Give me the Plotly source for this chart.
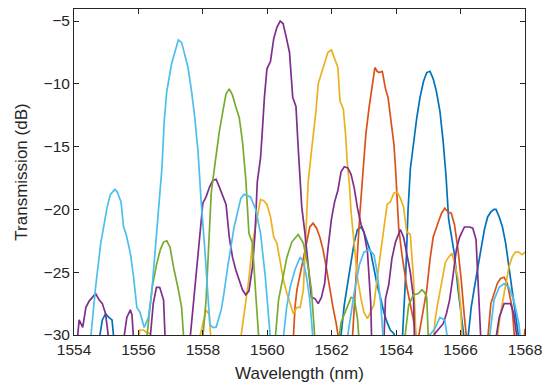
import plotly.graph_objects as go

# Transmission spectra of six channels (wavelength in nm, transmission in dB).
# Values below the -30 dB floor fall outside the axis range and are clipped.
wl_ch1 = [1554.0, 1554.7, 1554.78, 1554.88, 1554.98, 1555.08, 1555.18, 1555.24, 1555.4,
          1562.2, 1562.29, 1562.39, 1562.5, 1562.6, 1562.7, 1562.8, 1562.91, 1563.0, 1563.11,
          1563.21, 1563.31, 1563.41, 1563.52, 1563.62, 1563.72, 1563.82, 1563.93, 1564.0, 1564.1,
          1564.2, 1564.3, 1564.37, 1564.44, 1564.54, 1564.64, 1564.74, 1564.85, 1564.95, 1565.05,
          1565.15, 1565.25, 1565.36, 1565.46, 1565.55, 1565.59, 1565.63, 1565.71, 1565.81, 1565.92,
          1566.02, 1566.12, 1566.17, 1566.24, 1566.33, 1566.43, 1566.53, 1566.64, 1566.74, 1566.84,
          1566.94, 1567.04, 1567.1, 1567.2, 1567.3, 1567.4, 1567.5, 1567.6, 1567.7, 1567.81,
          1567.9, 1568.0]
db_ch1 = [-33, -32, -30.4, -28.8, -28.3, -28.6, -28.8, -30.4, -33,
          -32, -30.0, -27.6, -25.8, -24.2, -22.6, -21.6, -21.4, -21.8, -22.6,
          -23.4, -24.7, -26.0, -27.1, -28.2, -29.0, -29.6, -29.9, -30.5, -31,
          -30.0, -25.0, -20.0, -16.8, -14.6, -12.7, -11.1, -9.8, -9.1, -9.0,
          -9.6, -10.6, -12.2, -14.6, -17.4, -18.8, -20.8, -22.0, -23.6, -26.3,
          -28.4, -30.2, -31.5, -30.0, -27.8, -26.2, -24.6, -23.0, -21.6, -20.6,
          -20.2, -20.0, -20.0, -20.6, -21.4, -22.7, -24.6, -26.7, -28.6, -30.4,
          -32, -33]

wl_ch2 = [1554.0, 1560.7, 1560.81, 1560.86, 1560.92, 1561.02, 1561.12, 1561.22, 1561.32,
          1561.42, 1561.53, 1561.63, 1561.73, 1561.83, 1561.93, 1562.04, 1562.14, 1562.22,
          1562.4, 1562.64, 1562.75, 1562.87, 1563.0, 1563.06, 1563.16, 1563.26, 1563.34, 1563.41,
          1563.47, 1563.57, 1563.67, 1563.75, 1563.82, 1563.93, 1563.98, 1564.03, 1564.08,
          1564.18, 1564.34, 1564.49, 1564.59, 1564.64, 1564.69, 1564.8, 1564.95, 1565.05,
          1565.15, 1565.31, 1565.41, 1565.51, 1565.61, 1565.71, 1565.81, 1565.92, 1566.02,
          1566.12, 1566.2, 1566.5, 1566.84, 1566.94, 1567.04, 1567.14, 1567.24, 1567.35,
          1567.45, 1567.52, 1567.6, 1567.68, 1567.8, 1567.95, 1568.0]
db_ch2 = [-33, -32, -30.2, -27.8, -26.4, -25.1, -24.0, -22.4, -21.4,
          -21.1, -21.5, -22.2, -23.2, -24.6, -26.2, -27.8, -29.1, -30.4,
          -32, -30.4, -25.6, -20.5, -16.0, -14.0, -11.9, -10.3, -8.7, -9.0,
          -9.1, -9.0, -10.4, -11.1, -12.4, -14.8, -16.7, -18.8, -21.5,
          -23.6, -26.3, -28.2, -29.5, -31, -30.2, -28.5, -26.4, -24.0,
          -22.2, -21.0, -20.3, -19.9, -20.2, -20.3, -21.2, -23.2, -25.6,
          -28.6, -30.6, -32, -30.4, -27.5, -26.7, -25.9, -25.5, -25.4,
          -25.9, -26.7, -27.8, -30.4, -32, -31, -29.5]

wl_ch3 = [1554.0, 1555.9, 1556.0, 1556.05, 1556.16, 1556.26, 1556.36, 1556.42, 1557.0,
          1557.85, 1557.9, 1558.0, 1558.1, 1558.2, 1558.25, 1558.7, 1559.15, 1559.18, 1559.3,
          1559.43, 1559.54, 1559.69, 1559.79, 1559.89, 1559.99, 1560.1, 1560.2, 1560.3, 1560.4,
          1560.5, 1560.61, 1560.71, 1560.81, 1560.92, 1561.02, 1561.12, 1561.17, 1561.22,
          1561.27, 1561.37, 1561.51, 1561.58, 1561.68, 1561.78, 1561.88, 1561.99, 1562.09,
          1562.19, 1562.26, 1562.36, 1562.43, 1562.48, 1562.55, 1562.6, 1562.7, 1562.8, 1562.91,
          1563.0, 1563.11, 1563.21, 1563.31, 1563.41, 1563.52, 1563.62, 1563.72, 1563.82,
          1563.93, 1564.03, 1564.13, 1564.23, 1564.33, 1564.44, 1564.54, 1564.62, 1564.9,
          1565.15, 1565.2, 1565.27, 1565.36, 1565.46, 1565.53, 1565.63, 1565.73, 1565.81,
          1565.92, 1566.0, 1566.05, 1566.6, 1567.1, 1567.14, 1567.24, 1567.35, 1567.5, 1567.6,
          1567.7, 1567.8, 1567.91, 1568.0]
db_ch3 = [-33, -32, -30.2, -29.6, -29.6, -29.8, -29.9, -30.4, -32,
          -31, -30.2, -29.1, -28.0, -28.4, -30.4, -32, -31, -30.2, -27.8,
          -25.5, -22.7, -20.4, -19.2, -19.3, -19.6, -20.6, -22.2, -22.7, -24.3,
          -25.6, -26.7, -27.5, -28.3, -27.8, -27.8, -26.4, -23.2, -20.6,
          -17.8, -15.4, -12.2, -10.0, -9.2, -8.4, -7.5, -7.3, -8.0,
          -8.7, -11.4, -12.0, -14.0, -16.2, -18.0, -20.2, -22.8, -25.5, -27.1,
          -28.2, -28.7, -28.2, -27.6, -25.5, -23.4, -21.5, -19.6, -19.4,
          -18.7, -18.6, -19.1, -19.8, -21.8, -22.0, -25.5, -30.4, -32,
          -31, -29.0, -27.8, -26.6, -25.2, -24.2, -23.8, -23.5, -24.2,
          -25.5, -27.6, -30.4, -32, -31, -30.2, -28.3, -26.7, -24.6, -23.8,
          -23.4, -23.4, -23.6, -23.4]

wl_ch4 = [1554.05, 1554.11, 1554.16, 1554.27, 1554.37, 1554.47, 1554.57, 1554.67, 1554.78,
          1554.88, 1554.98, 1555.08, 1555.3, 1555.54, 1555.64, 1555.75, 1555.8, 1555.85, 1556.1,
          1556.36, 1556.46, 1556.56, 1556.66, 1556.78, 1556.83, 1557.2, 1557.6, 1557.7, 1557.8,
          1557.9, 1558.0, 1558.1, 1558.21, 1558.31, 1558.41, 1558.51, 1558.62, 1558.72, 1558.82,
          1558.92, 1559.02, 1559.13, 1559.23, 1559.33, 1559.43, 1559.54, 1559.62, 1559.69,
          1559.79, 1559.84, 1559.91, 1559.99, 1560.1, 1560.2, 1560.3, 1560.4, 1560.49, 1560.59,
          1560.69, 1560.79, 1560.89, 1560.96, 1561.02, 1561.07, 1561.17, 1561.27, 1561.37,
          1561.48, 1561.58, 1561.68, 1561.78, 1561.88, 1561.99, 1562.09, 1562.19, 1562.29,
          1562.39, 1562.5, 1562.6, 1562.7, 1562.8, 1562.91, 1563.0, 1563.11, 1563.21, 1563.24,
          1563.45, 1563.62, 1563.67, 1563.77, 1563.87, 1563.98, 1564.13, 1564.23, 1564.33,
          1564.44, 1564.54, 1564.57, 1564.9, 1565.2, 1565.36, 1565.46, 1565.56, 1565.66,
          1565.76, 1565.87, 1565.97, 1566.12, 1566.28, 1566.38, 1566.48, 1566.53, 1566.58,
          1566.63, 1566.85, 1567.09, 1567.2, 1567.35, 1567.55, 1567.65, 1567.76, 1567.9, 1568.0]
db_ch4 = [-31, -30.2, -28.8, -29.4, -27.8, -27.3, -27.0, -26.7, -27.2,
          -27.5, -28.3, -30.4, -32, -30.4, -28.6, -28.0, -28.4, -30.4, -32,
          -30.4, -27.5, -26.2, -26.2, -27.2, -30.4, -32, -30.4, -27.8, -25.1,
          -22.4, -19.5, -19.0, -18.2, -17.7, -17.6, -18.2, -19.0, -19.6, -22.2,
          -23.8, -24.8, -25.6, -26.4, -26.8, -26.5, -24.6, -21.9, -17.8,
          -15.9, -14.0, -11.1, -8.8, -8.2, -6.4, -5.5, -5.0, -5.2, -6.3,
          -7.5, -11.1, -11.8, -15.1, -17.8, -19.8, -21.9, -24.6, -27.0,
          -27.1, -27.5, -27.0, -25.9, -23.2, -20.8, -19.4, -18.5, -17.0,
          -16.6, -16.7, -17.2, -18.3, -19.9, -21.2, -21.8, -23.4, -27.4, -30.4,
          -32, -30.4, -27.1, -26.0, -23.9, -22.6, -21.6, -22.2, -23.6,
          -25.0, -27.1, -30.4, -32, -29.9, -29.4, -29.1, -28.3, -27.2,
          -25.4, -23.2, -22.2, -21.4, -21.4, -21.5, -22.4, -25.4, -27.8,
          -30.4, -32, -30.4, -28.6, -27.5, -27.5, -28.3, -30.4, -32, -33]

wl_ch5 = [1554.0, 1556.1, 1556.27, 1556.42, 1556.57, 1556.68, 1556.78, 1556.88, 1556.98,
          1557.09, 1557.24, 1557.34, 1557.41, 1557.7, 1558.0, 1558.1, 1558.2, 1558.26, 1558.36,
          1558.51, 1558.62, 1558.72, 1558.82, 1558.92, 1559.02, 1559.13, 1559.23, 1559.33,
          1559.43, 1559.54, 1559.64, 1559.74, 1560.0, 1560.25, 1560.35, 1560.5, 1560.61, 1560.76,
          1560.96, 1561.12, 1561.27, 1561.37, 1561.48, 1561.9, 1562.24, 1562.29, 1562.39,
          1562.5, 1562.6, 1562.7, 1562.8, 1562.85, 1563.6, 1564.28, 1564.39, 1564.54, 1564.69,
          1564.8, 1564.88, 1564.95, 1565.0, 1565.4, 1568.0]
db_ch5 = [-33, -32, -30.0, -26.3, -24.3, -23.2, -22.6, -22.5, -23.0,
          -24.6, -26.4, -27.8, -30.4, -32, -30.2, -27.2, -21.9, -18.7, -16.7,
          -13.8, -12.2, -10.8, -10.4, -10.9, -11.8, -12.7, -14.6, -17.5,
          -21.9, -22.7, -26.7, -30.4, -32, -30.2, -27.2, -25.1, -23.8, -22.6,
          -22.0, -22.7, -24.6, -26.4, -30.4, -32, -30.0, -29.0, -28.4,
          -27.6, -27.0, -27.1, -28.7, -30.4, -32, -30.0, -27.6, -26.8, -26.7,
          -26.4, -26.6, -27.0, -30.4, -32, -33]

wl_ch6 = [1554.0, 1554.35, 1554.52, 1554.67, 1554.83, 1554.93, 1555.03, 1555.13, 1555.27,
          1555.34, 1555.46, 1555.54, 1555.62, 1555.75, 1555.85, 1555.95, 1556.05, 1556.18,
          1556.31, 1556.41, 1556.54, 1556.64, 1556.73, 1556.8, 1556.88, 1557.03, 1557.15,
          1557.24, 1557.34, 1557.44, 1557.54, 1557.65, 1557.75, 1557.85, 1557.9, 1557.95,
          1558.05, 1558.16, 1558.22, 1558.31, 1558.41, 1558.5, 1558.57, 1558.66, 1558.77,
          1558.97, 1559.18, 1559.28, 1559.48, 1559.64, 1559.79, 1559.94, 1560.05, 1560.1,
          1560.3, 1560.5, 1560.6, 1560.71, 1560.86, 1561.02, 1561.12, 1561.22, 1561.32, 1561.42,
          1561.9, 1562.5, 1562.7, 1562.86, 1563.0, 1563.16, 1563.31, 1563.41, 1563.52, 1563.6,
          1564.4, 1565.2, 1565.36, 1565.51, 1565.6, 1566.3, 1566.9, 1567.04, 1567.2, 1567.35,
          1567.5, 1567.65, 1567.81, 1567.86, 1568.0]
db_ch6 = [-33, -32, -30.2, -26.2, -22.7, -21.1, -19.8, -18.8, -18.4,
          -18.6, -19.4, -21.4, -22.0, -23.5, -25.4, -27.8, -28.2, -29.4,
          -28.6, -26.7, -22.7, -20.0, -16.7, -13.0, -10.6, -8.4, -7.2,
          -6.5, -6.7, -7.6, -8.7, -10.6, -12.7, -15.4, -17.8, -19.5,
          -22.8, -26.8, -29.2, -29.4, -29.4, -28.6, -28.0, -26.6, -24.6,
          -21.4, -19.1, -18.8, -19.0, -20.0, -21.9, -25.4, -28.6, -30.4,
          -32, -30.2, -27.8, -26.2, -24.8, -23.8, -24.2, -25.4, -27.2, -30.4,
          -32, -30.0, -26.6, -24.4, -23.4, -23.2, -23.6, -25.0, -27.4, -30.4,
          -32, -29.5, -28.6, -28.8, -30.4, -32, -30.2, -27.2, -26.2, -25.9,
          -26.2, -27.2, -29.1, -30.4, -32]

channels = [
    (wl_ch1, db_ch1, "#0072BD"),
    (wl_ch2, db_ch2, "#D95319"),
    (wl_ch3, db_ch3, "#EDB120"),
    (wl_ch4, db_ch4, "#7E2F8E"),
    (wl_ch5, db_ch5, "#77AC30"),
    (wl_ch6, db_ch6, "#4DBEEE"),
]

x_ticks = [1554, 1556, 1558, 1560, 1562, 1564, 1566, 1568]
y_ticks = [-30, -25, -20, -15, -10, -5]

FONT = "Liberation Sans, Arial, sans-serif"

fig = go.Figure()
for wl, db, color in channels:
    fig.add_trace(go.Scatter(x=wl, y=db, mode="lines",
                             line=dict(color=color, width=1.7),
                             showlegend=False, hoverinfo="skip"))

axis_common = dict(
    showgrid=False, zeroline=False, showline=True, linecolor="#262626", linewidth=1,
    mirror="ticks", ticks="inside", ticklen=5, tickwidth=1, tickcolor="#262626",
    ticklabeloverflow="allow", automargin=False,
    tickfont=dict(family=FONT, size=15.5, color="#262626"),
)

fig.update_xaxes(range=[1554, 1568], tickvals=x_ticks,
                 title=dict(text="Wavelength (nm)", standoff=10,
                            font=dict(family=FONT, size=17, color="#262626")),
                 **axis_common)
fig.update_yaxes(range=[-30, -4.04], tickvals=y_ticks,
                 title=dict(text="Transmission (dB)", standoff=11,
                            font=dict(family=FONT, size=17, color="#262626")),
                 **axis_common)

fig.update_layout(
    width=542, height=385,
    margin=dict(l=74, r=17, t=9, b=50),
    paper_bgcolor="white", plot_bgcolor="white",
)

fig.write_html("out.html")
